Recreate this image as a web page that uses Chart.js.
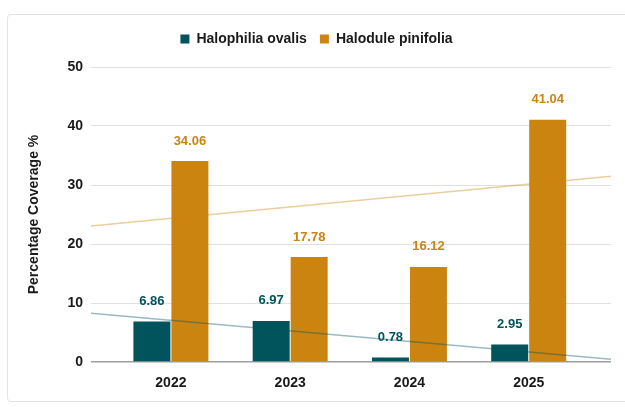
<!DOCTYPE html>
<html lang="en">
<head>
  <meta charset="UTF-8">
  <title>Seagrass Percentage Coverage</title>
  <script src="https://cdn.jsdelivr.net/npm/chart.js"></script>
  <style>
    html, body { margin: 0; padding: 0; background: #fff; }
    #wrap { position: relative; width: 625px; height: 407px; }
    #frame {
      position: absolute; left: 7px; top: 14px; width: 640px; height: 388px;
      border: 1px solid #e4e4e4; border-radius: 4px; box-sizing: border-box;
    }
    #chart { position: absolute; left: 0; top: 0; }
  </style>
</head>
<body>
  <div id="wrap">
    <div id="frame"></div>
    <canvas id="chart" width="625" height="407"></canvas>
  </div>
  <script>
    const years = ["2022", "2023", "2024", "2025"];
    const halophila = [6.86, 6.97, 0.78, 2.95];
    const halodule = [34.06, 17.78, 16.12, 41.04];
    const yTicks = [0, 10, 20, 30, 40, 50];

    const tealColor = "#01535c";
    const orangeColor = "#cc8411";
    const xMin = -0.67, xMax = 3.69;
    const font = "'Liberation Sans', Arial, sans-serif";

    // least squares trend line, evaluated at the ends of the x range
    function trend(values) {
      const n = values.length;
      const mx = (n - 1) / 2;
      const my = values.reduce((a, b) => a + b, 0) / n;
      let num = 0, den = 0;
      values.forEach((v, i) => { num += (i - mx) * (v - my); den += (i - mx) * (i - mx); });
      const slope = num / den;
      return [xMin, xMax].map(x => ({ x: x, y: my + slope * (x - mx) }));
    }

    const valueLabels = {
      id: "valueLabels",
      afterDatasetsDraw(chart) {
        const ctx = chart.ctx;
        ctx.save();
        ctx.font = "bold 13px " + font;
        ctx.textAlign = "center";
        ctx.textBaseline = "middle";
        chart.data.datasets.forEach((ds, i) => {
          if (ds.type !== "bar") return;
          ctx.fillStyle = ds.backgroundColor;
          chart.getDatasetMeta(i).data.forEach((bar, j) => {
            ctx.fillText(ds.data[j].y.toFixed(2), bar.x, bar.y - 20);
          });
        });
        ctx.restore();
      }
    };

    // extra room under the legend
    const legendGap = {
      id: "legendGap",
      beforeInit(chart) {
        const fit = chart.legend.fit;
        chart.legend.fit = function () {
          fit.call(this);
          this.height += 11;
        };
      }
    };

    new Chart(document.getElementById("chart"), {
      data: {
        datasets: [
          {
            type: "bar", label: "Halophilia ovalis", order: 2,
            data: halophila.map((v, i) => ({ x: i, y: v })),
            backgroundColor: tealColor
          },
          {
            type: "bar", label: "Halodule pinifolia", order: 2,
            data: halodule.map((v, i) => ({ x: i, y: v })),
            backgroundColor: orangeColor
          },
          {
            type: "line", label: "trend1", order: 1,
            data: trend(halophila),
            borderColor: "rgba(1,83,92,0.4)", borderWidth: 1.5, pointRadius: 0
          },
          {
            type: "line", label: "trend2", order: 1,
            data: trend(halodule),
            borderColor: "rgba(204,132,17,0.4)", borderWidth: 1.5, pointRadius: 0
          }
        ]
      },
      options: {
        responsive: false,
        animation: false,
        categoryPercentage: 0.637,
        barPercentage: 0.974,
        layout: { padding: { left: 22, right: 14, top: 19, bottom: 0 } },
        plugins: {
          tooltip: { enabled: false },
          legend: {
            position: "top",
            labels: {
              filter: item => !item.text.startsWith("trend"),
              boxWidth: 9, boxHeight: 9, padding: 13,
              color: "#1a1a1a",
              font: { family: font, size: 14, weight: "bold" }
            }
          }
        },
        scales: {
          x: {
            type: "linear", min: xMin, max: xMax, offset: false,
            afterBuildTicks: scale => { scale.ticks = years.map((_, i) => ({ value: i })); },
            afterFit: scale => { scale.height = 45; },
            grid: { display: false },
            border: { display: false },
            ticks: {
              padding: 5,
              color: "#1a1a1a",
              font: { family: font, size: 14, weight: "bold" },
              callback: v => years[v]
            }
          },
          y: {
            min: 0, max: 50,
            afterBuildTicks: scale => { scale.ticks = yTicks.map(v => ({ value: v })); },
            afterFit: scale => { scale.width = 69; },
            border: { display: false },
            grid: {
              drawTicks: false,
              color: c => c.tick.value === 0 ? "#9e9e9e" : "#e0e0e0",
              lineWidth: c => c.tick.value === 0 ? 1.5 : 1
            },
            ticks: {
              padding: 8,
              color: "#1a1a1a",
              font: { family: font, size: 14, weight: "bold" }
            },
            title: {
              display: true,
              text: "Percentage Coverage %",
              color: "#1a1a1a",
              font: { family: font, size: 14, weight: "bold" }
            }
          }
        }
      },
      plugins: [valueLabels, legendGap]
    });
  </script>
</body>
</html>
